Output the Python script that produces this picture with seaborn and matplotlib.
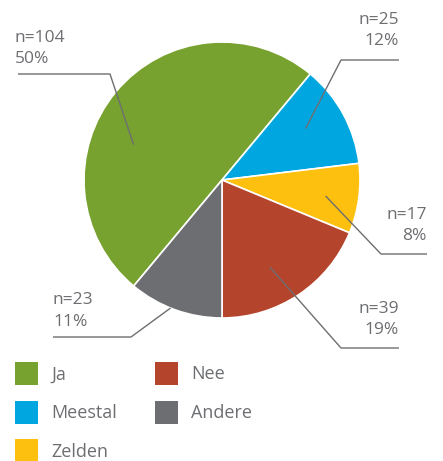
import numpy as np
import matplotlib
matplotlib.use("Agg")
import matplotlib.pyplot as plt
import seaborn as sns
from matplotlib.patches import Patch

# Data
categories = ["Ja", "Meestal", "Zelden", "Nee", "Andere"]
counts = [104, 25, 17, 39, 23]
percent_labels = ["50%", "12%", "8%", "19%", "11%"]
colors = ["#78A22F", "#00A6E0", "#FDC00F", "#B5442C", "#6D6E71"]

sns.set_theme(style="white")
plt.rcParams["font.family"] = ["Open Sans", "DejaVu Sans"]
text_gray = "#6D6E71"

W, H = 443, 461
fig = plt.figure(figsize=(W / 100, H / 100), dpi=100)
ax = fig.add_axes([0, 0, 1, 1])

center = (222, H - 180)
radius = 138
wedges, _ = ax.pie(counts, colors=colors, startangle=230.2, counterclock=False,
                   center=center, radius=radius, frame=True,
                   wedgeprops=dict(edgecolor="white", linewidth=1.2))
ax.set_xlim(0, W)
ax.set_ylim(0, H)
ax.set_aspect("equal")
ax.axis("off")

# label layout (pixel positions, y measured from the top)
# (text x, first baseline, ha, elbow x, line y, end x, angle offset, radius fraction)
layout = [
    (15, 42, "left", 110, 74, 18, 18, 0.69),
    (399, 24, "right", 341, 60, 399, 3, 0.71),
    (427, 219, "right", 381, 254, 427, -1, 0.76),
    (399, 313, "right", 341, 348, 399, -5, 0.72),
    (53, 304, "left", 131, 337, 53, -2, 1.0),
]

for w, n, pct, (tx, ty, ha, ex, ly, endx, off, rf) in zip(wedges, counts, percent_labels, layout):
    mid = np.deg2rad((w.theta1 + w.theta2) / 2 + off)
    ix = center[0] + rf * radius * np.cos(mid)
    iy = center[1] + rf * radius * np.sin(mid)
    ax.plot([endx, ex, ix], [H - ly, H - ly, iy], color=text_gray, lw=1.0,
            solid_capstyle="butt", zorder=5)
    ax.text(tx, H - ty, f"n={n}", ha=ha, va="baseline", fontsize=12.5, color=text_gray)
    ax.text(tx, H - ty - 21.5, pct, ha=ha, va="baseline", fontsize=12.5, color=text_gray)

handles = [Patch(facecolor=c, edgecolor="none", label=l) for c, l in zip(colors, categories)]
fig.legend(handles=handles, ncol=2, loc="upper left", frameon=False,
           bbox_to_anchor=(15 / W, 1 - 362 / H), borderpad=0, borderaxespad=0,
           fontsize=13, handlelength=1.28, handleheight=1.59,
           handletextpad=0.72, columnspacing=2.1, labelspacing=0.86,
           labelcolor=text_gray)

fig.savefig("out.png", dpi=100)
